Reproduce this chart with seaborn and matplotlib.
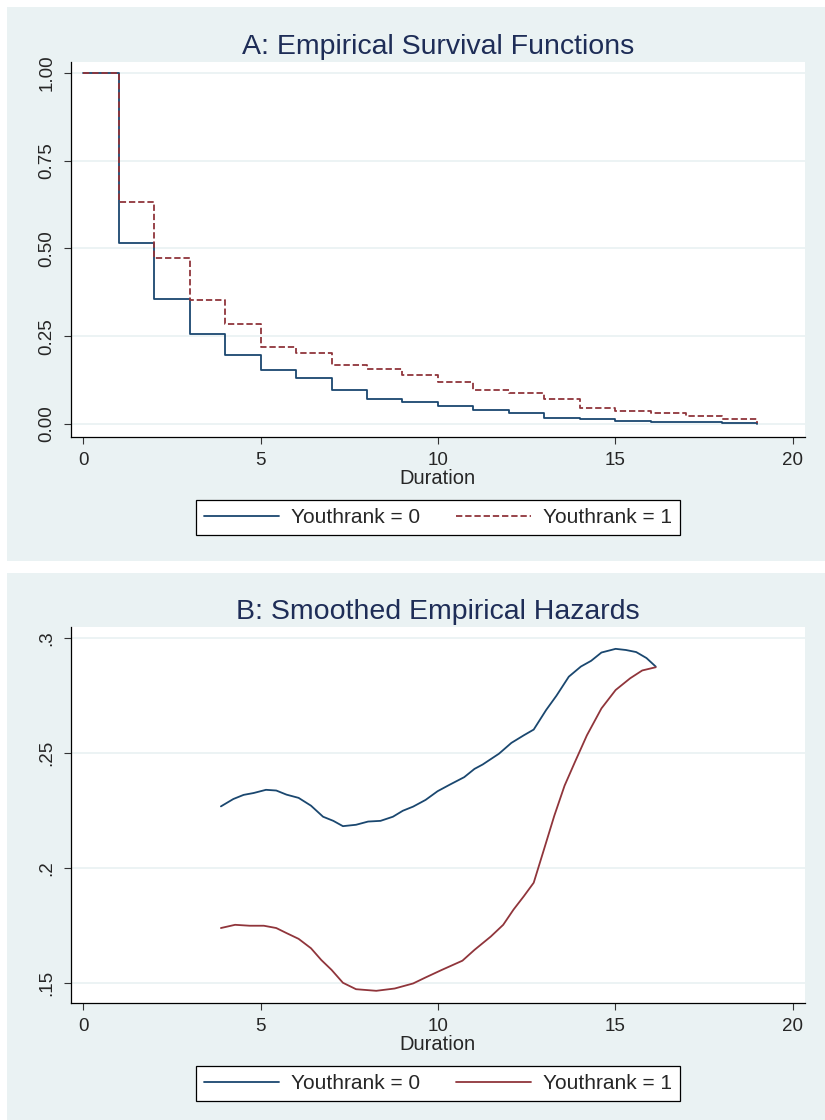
import numpy as np
import pandas as pd
import matplotlib
matplotlib.use("Agg")
import matplotlib.pyplot as plt
from matplotlib.patches import Rectangle
import seaborn as sns

sns.set_theme(style="white")
plt.rcParams['font.family'] = ['Liberation Sans', 'DejaVu Sans']

# Panel A: empirical survival functions (step values at each duration)
durations = list(range(0, 20))
surv_youth0 = [1.000, 0.515, 0.355, 0.257, 0.197, 0.154, 0.131, 0.097, 0.072, 0.064,
               0.051, 0.040, 0.032, 0.018, 0.014, 0.009, 0.007, 0.005, 0.002, 0.000]
surv_youth1 = [1.000, 0.632, 0.474, 0.353, 0.285, 0.219, 0.203, 0.167, 0.158, 0.140,
               0.121, 0.098, 0.087, 0.072, 0.046, 0.037, 0.030, 0.022, 0.014, 0.002]

# Panel B: smoothed empirical hazards
haz_t0 = [3.88, 4.23, 4.52, 4.80, 5.15, 5.44, 5.73, 6.07, 6.42, 6.76, 7.05, 7.32, 7.69,
          8.03, 8.38, 8.73, 9.01, 9.30, 9.65, 9.99, 10.34, 10.74, 11.03, 11.26, 11.72,
          12.07, 12.42, 12.70, 13.05, 13.34, 13.69, 14.03, 14.32, 14.61, 15.01, 15.30,
          15.59, 15.88, 16.14]
haz_youth0 = [0.2268, 0.2300, 0.2318, 0.2326, 0.2340, 0.2337, 0.2319, 0.2305, 0.2271,
              0.2223, 0.2205, 0.2182, 0.2188, 0.2202, 0.2205, 0.2223, 0.2249, 0.2267,
              0.2296, 0.2334, 0.2363, 0.2395, 0.2431, 0.2450, 0.2497, 0.2544, 0.2577,
              0.2602, 0.2687, 0.2749, 0.2832, 0.2876, 0.2901, 0.2937, 0.2953, 0.2948,
              0.2939, 0.2913, 0.2876]
haz_t1 = [3.88, 4.28, 4.69, 5.09, 5.44, 5.73, 6.07, 6.42, 6.71, 7.00, 7.32, 7.69, 8.26,
          8.78, 9.30, 9.65, 10.11, 10.69, 11.03, 11.49, 11.84, 12.13, 12.42, 12.70,
          12.99, 13.28, 13.57, 13.86, 14.20, 14.61, 15.01, 15.42, 15.76, 16.14]
haz_youth1 = [0.1739, 0.1753, 0.1749, 0.1749, 0.1739, 0.1717, 0.1692, 0.1651, 0.1600,
              0.1557, 0.1501, 0.1473, 0.1466, 0.1476, 0.1498, 0.1524, 0.1557, 0.1597,
              0.1644, 0.1702, 0.1753, 0.1819, 0.1877, 0.1936, 0.2081, 0.2227, 0.2358,
              0.2460, 0.2577, 0.2694, 0.2774, 0.2825, 0.2859, 0.2873]

labels = ['Youthrank = 0', 'Youthrank = 1']
colors = {labels[0]: '#1A476F', labels[1]: '#90353B'}
panel_bg = '#EAF2F3'
grid_col = '#EAF2F3'
title_col = '#1E2D57'

surv_df = pd.DataFrame({
    'duration': durations * 2,
    'survival': surv_youth0 + surv_youth1,
    'group': [labels[0]] * len(durations) + [labels[1]] * len(durations),
})
haz_df = pd.DataFrame({
    'duration': haz_t0 + haz_t1,
    'hazard': haz_youth0 + haz_youth1,
    'group': [labels[0]] * len(haz_t0) + [labels[1]] * len(haz_t1),
})

fig = plt.figure(figsize=(8.25, 11.2), dpi=100)
fig.patch.set_facecolor('white')
W, H = 825, 1120
# panel backgrounds
for (x0, y0, x1, y1) in [(7, 7, 825, 561), (7, 573, 825, 1120)]:
    fig.add_artist(Rectangle((x0 / W, 1 - y1 / H), (x1 - x0) / W, (y1 - y0) / H,
                             transform=fig.transFigure, facecolor=panel_bg,
                             edgecolor='none', zorder=-5))

axA = fig.add_axes([70.7 / W, 1 - 437 / H, (805 - 70.7) / W, (437 - 62) / H])
axB = fig.add_axes([70.7 / W, 1 - 1003 / H, (805 - 70.7) / W, (1003 - 627) / H])

sns.lineplot(data=surv_df, x='duration', y='survival', hue='group', style='group',
             palette=colors, dashes={labels[0]: '', labels[1]: (3.5, 1.6)},
             drawstyle='steps-post', estimator=None, linewidth=1.3, ax=axA)
sns.lineplot(data=haz_df, x='duration', y='hazard', hue='group',
             palette=colors, estimator=None, sort=False, linewidth=1.3, ax=axB)

axA.set_ylim(-0.037, 1.031)
axA.set_yticks([0, 0.25, 0.5, 0.75, 1.0])
axA.set_yticklabels(['0.00', '0.25', '0.50', '0.75', '1.00'])
axA.set_title('A: Empirical Survival Functions', fontsize=20.5, color=title_col, pad=6)

axB.set_ylim(0.1413, 0.3048)
axB.set_yticks([0.15, 0.2, 0.25, 0.3])
axB.set_yticklabels(['.15', '.2', '.25', '.3'])
axB.set_title('B: Smoothed Empirical Hazards', fontsize=20.5, color=title_col, pad=6)

for ax in (axA, axB):
    ax.set_facecolor('white')
    ax.set_xlim(-0.356, 20.35)
    ax.set_xticks([0, 5, 10, 15, 20])
    ax.set_xlabel('Duration', fontsize=14.5, labelpad=0)
    ax.set_ylabel('')
    for s in ('top', 'right'):
        ax.spines[s].set_visible(False)
    for s in ('left', 'bottom'):
        ax.spines[s].set_color('black')
        ax.spines[s].set_linewidth(0.9)
    ax.yaxis.grid(True, color=grid_col, linewidth=1.3)
    ax.xaxis.grid(False)
    ax.set_axisbelow(True)
    ax.tick_params(axis='both', direction='out', length=5, width=0.8,
                   color='#333333', labelsize=13.5, pad=6, bottom=True, left=True)
    ax.tick_params(axis='y', labelrotation=90)
    for lab in ax.get_yticklabels():
        lab.set_va('center')
    handles, labs = ax.get_legend_handles_labels()
    ax.legend(handles, labs, loc='upper center', bbox_to_anchor=(0.5, -0.139),
              ncol=2, frameon=True, fancybox=False, edgecolor='black',
              framealpha=1, fontsize=15, handlelength=3.6, handletextpad=0.55,
              columnspacing=1.75, borderpad=0.4)
    ax.get_legend().get_frame().set_linewidth(0.9)

fig.savefig('out.png', dpi=100, facecolor='white')
